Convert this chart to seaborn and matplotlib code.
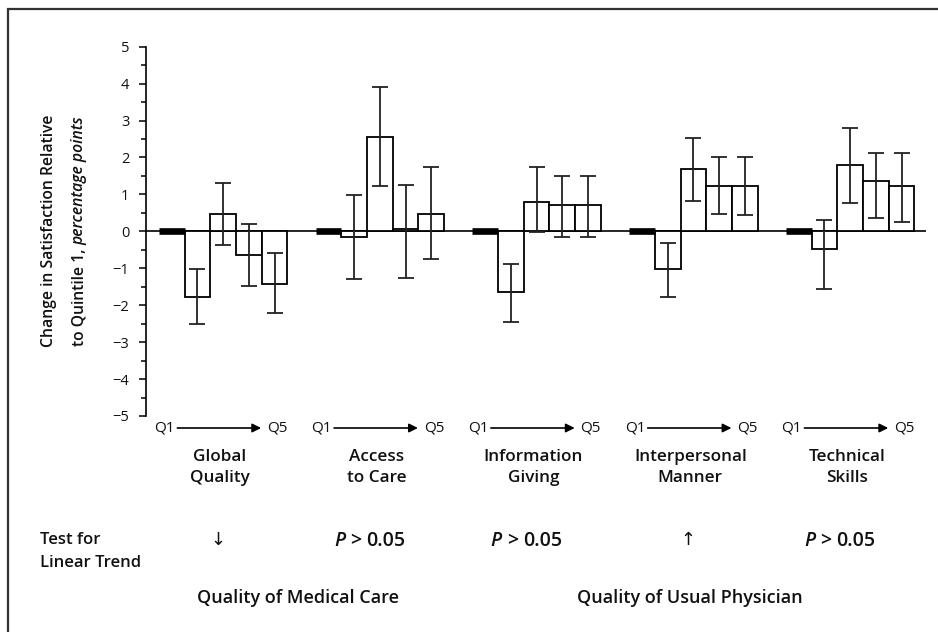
import numpy as np
import pandas as pd
import seaborn as sns
import matplotlib
matplotlib.use("Agg")
import matplotlib.pyplot as plt
from matplotlib.ticker import MultipleLocator
from matplotlib.transforms import blended_transform_factory
from matplotlib.patches import Rectangle

# ---- data: change relative to quintile 1 (Q2..Q5), percentage points ----
domains = ["Global\nQuality", "Access\nto Care", "Information\nGiving",
           "Interpersonal\nManner", "Technical\nSkills"]
quintiles = ["Q2", "Q3", "Q4", "Q5"]
q1_reference = [0, 0, 0, 0, 0]

global_mean = [-1.78, 0.47, -0.64, -1.42]
global_low = [-2.52, -0.36, -1.47, -2.21]
global_high = [-1.03, 1.32, 0.20, -0.59]

access_mean = [-0.16, 2.56, 0.07, 0.47]
access_low = [-1.30, 1.23, -1.25, -0.74]
access_high = [0.98, 3.90, 1.26, 1.75]

info_mean = [-1.65, 0.80, 0.70, 0.72]
info_low = [-2.45, -0.03, -0.16, -0.14]
info_high = [-0.89, 1.73, 1.50, 1.50]

manner_mean = [-1.03, 1.70, 1.23, 1.23]
manner_low = [-1.79, 0.83, 0.46, 0.45]
manner_high = [-0.32, 2.52, 2.01, 2.01]

skills_mean = [-0.47, 1.80, 1.35, 1.23]
skills_low = [-1.55, 0.76, 0.35, 0.25]
skills_high = [0.30, 2.81, 2.12, 2.12]

trend_labels = ["\u2193", "P > 0.05", "P > 0.05", "\u2191", "P > 0.05"]
y_ticks = [-5, -4, -3, -2, -1, 0, 1, 2, 3, 4, 5]
group_titles = ["Quality of Medical Care", "Quality of Usual Physician"]

means = [global_mean, access_mean, info_mean, manner_mean, skills_mean]
lows = [global_low, access_low, info_low, manner_low, skills_low]
highs = [global_high, access_high, info_high, manner_high, skills_high]

# ---- layout ----
W, H, DPI = 938, 632, 100
GROUP_STEP = 6.1
group_left = 0.5 + GROUP_STEP * np.arange(len(domains))

rows = []
for g, name in enumerate(domains):
    for j, q in enumerate(quintiles):
        rows.append(dict(domain=name, quintile=q, pos=group_left[g] + 1.5 + j,
                         value=means[g][j], low=lows[g][j], high=highs[g][j]))
df = pd.DataFrame(rows)

sns.set_theme(style="white")
plt.rcParams["font.family"] = ["Open Sans", "DejaVu Sans"]
plt.rcParams["axes.unicode_minus"] = True

fig = plt.figure(figsize=(W / DPI, H / DPI), dpi=DPI)
fig.patch.set_facecolor("white")
ax = fig.add_axes([146 / W, 1 - 416 / H, (926 - 146) / W, (416 - 46.7) / H])
ax.set_facecolor("none")

ax.axhline(0, color="black", lw=1.2, zorder=2)
sns.barplot(data=df, x="pos", y="value", native_scale=True, width=1,
            color="white", saturation=1, edgecolor="black", linewidth=1.3,
            errorbar=None, ax=ax, zorder=3)
ax.errorbar(df["pos"], df["value"],
            yerr=[df["value"] - df["low"], df["high"] - df["value"]],
            fmt="none", ecolor="#222222", elinewidth=1.3, capsize=6,
            capthick=1.3, zorder=4)
# quintile 1 reference bars
ax.hlines(q1_reference, group_left, group_left + 1, colors="black", lw=4.8,
          zorder=5)

ax.set_xlim(0, 30.35)
ax.set_ylim(-5, 5)
ax.set_xticks([])
ax.set_xlabel("")
ax.set_ylabel("")
sns.despine(ax=ax, bottom=True)
ax.spines["left"].set_bounds(-5, 5)
ax.spines["left"].set_color("black")
ax.spines["left"].set_linewidth(1.2)
ax.set_yticks(y_ticks)
ax.set_yticklabels([f"{t}".replace("-", "\u2212") for t in y_ticks])
ax.yaxis.set_minor_locator(MultipleLocator(0.5))
ax.tick_params(axis="y", which="major", left=True, direction="out", length=5,
               width=1.1, color="black", labelsize=10.5, pad=7,
               labelcolor="#111111")
ax.tick_params(axis="y", which="minor", left=True, direction="out", length=3.5,
               width=1.1, color="black")

renderer = fig.canvas.get_renderer()


def rich_text(runs, x_px, y_px, rotation=0, gap_px=4, **common):
    """Place runs of differently styled text side by side, centred on a point.
    For horizontal text y_px is the baseline; for rotated text x_px is."""
    texts = [fig.text(0, 0, s, rotation=rotation, rotation_mode="anchor",
                      ha="left", va="baseline", **common, **kw)
             for s, kw in runs]
    boxes = [t.get_window_extent(renderer) for t in texts]
    lengths = [b.width if rotation == 0 else b.height for b in boxes]
    total = sum(lengths) + gap_px * (len(texts) - 1)
    if rotation == 0:
        start = x_px - total / 2
        for t, l in zip(texts, lengths):
            t.set_position((start / W, 1 - y_px / H))
            start += l + gap_px
    else:
        start = (H - y_px) - total / 2
        for t, l in zip(texts, lengths):
            t.set_position((x_px / W, start / H))
            start += l + gap_px
    return texts


# y-axis title, two lines, second line partly italic
rich_text([("Change in Satisfaction Relative", {})], 53, 231, rotation=90,
          fontsize=11.3, fontweight="semibold", color="#111111")
rich_text([("to Quintile 1,", {}), ("percentage points", {"style": "italic"})],
          83, 231, rotation=90, gap_px=4, fontsize=11.3,
          fontweight="semibold", color="#111111")

trans = blended_transform_factory(ax.transData, fig.transFigure)

for g, name in enumerate(domains):
    L = group_left[g]
    y_q = 1 - 428 / H
    fig.text(L + 0.23, y_q, "Q1", transform=trans, ha="center", va="center",
             fontsize=11, color="#111111")
    fig.text(L + 4.6, y_q, "Q5", transform=trans, ha="center", va="center",
             fontsize=11, color="#111111")
    ax.annotate("", xy=(L + 3.98, y_q), xytext=(L + 0.72, y_q),
                xycoords=trans, textcoords=trans, annotation_clip=False,
                arrowprops=dict(arrowstyle="-|>", color="black", lw=1.2,
                                mutation_scale=13, shrinkA=0, shrinkB=0))
    for k, line in enumerate(name.split("\n")):
        fig.text(L + 2.38, 1 - (457 + 21 * k) / H, line, transform=trans,
                 ha="center", va="center", fontsize=12.3,
                 fontweight="semibold", color="#111111")
    label = trend_labels[g]
    if label.startswith("P"):
        x_disp = ax.transData.transform((L + 2.1, 0))[0]
        rich_text([("P", {"style": "italic"}), (">", {}), ("0.05", {})],
                  x_disp, 546, gap_px=5, fontsize=14, fontweight="semibold",
                  color="#111111")
    else:
        fig.text(L + 2.3, 1 - 540 / H, label, transform=trans, ha="center",
                 va="center", fontsize=13, color="#111111",
                 family=["DejaVu Sans"])

fig.text(40 / W, 1 - 540 / H, "Test for", ha="left", va="center",
         fontsize=12, fontweight="semibold", color="#111111")
fig.text(40 / W, 1 - 563 / H, "Linear Trend", ha="left", va="center",
         fontsize=12, fontweight="semibold", color="#111111")

fig.text(np.mean(group_left[:2]) + 2.35, 1 - 598 / H, group_titles[0],
         transform=trans, ha="center", va="center", fontsize=13,
         fontweight="semibold", color="#111111")
fig.text(np.mean(group_left[2:]) + 2.35, 1 - 598 / H, group_titles[1],
         transform=trans, ha="center", va="center", fontsize=13,
         fontweight="semibold", color="#111111")

# panel frame
fig.add_artist(Rectangle((8 / W, -0.05), 1.0, 1 - 9 / H + 0.05,
                         transform=fig.transFigure, fill=False,
                         edgecolor="#333333", lw=1.6))

fig.savefig("out.png", dpi=DPI)
